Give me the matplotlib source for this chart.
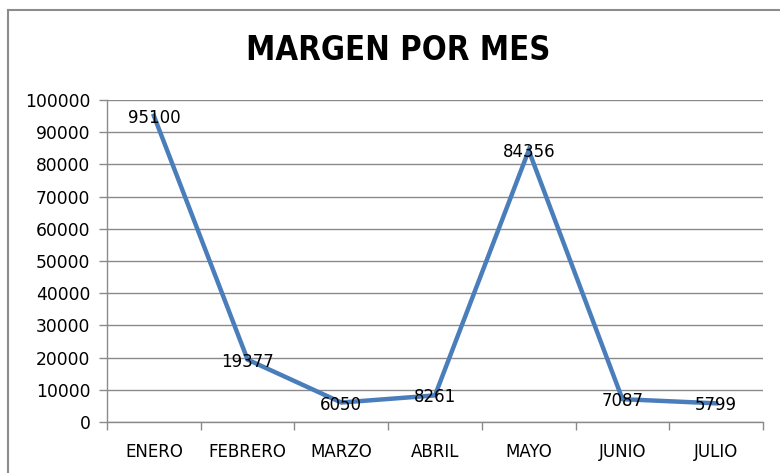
import numpy as np
import matplotlib.pyplot as plt
from matplotlib.lines import Line2D

meses = ['ENERO', 'FEBRERO', 'MARZO', 'ABRIL', 'MAYO', 'JUNIO', 'JULIO']
margen = [95100, 19377, 6050, 8261, 84356, 7087, 5799]
y_ticks = [0, 10000, 20000, 30000, 40000, 50000, 60000, 70000, 80000, 90000, 100000]

W, H = 780, 473
fig = plt.figure(figsize=(W / 100, H / 100), dpi=100)
ax = fig.add_axes([107 / W, 1 - 422 / H, (763 - 107) / W, (422 - 100) / H])

grid_color = '#8a8a8a'
line_color = '#4a7ebb'
font = 'DejaVu Sans'

x = np.arange(len(meses))
ax.plot(x, margen, color=line_color, lw=3.2, solid_joinstyle='miter', zorder=3)

for xi, v in zip(x, margen):
    ax.annotate(str(v), (xi, v), xytext=(0, -1.5), textcoords='offset points',
                ha='center', va='center', fontsize=12, family=font,
                color='black', zorder=4)

ax.set_xlim(-0.5, len(meses) - 0.5)
ax.set_ylim(0, 100000)
ax.set_yticks(y_ticks)
ax.set_yticklabels([str(t) for t in y_ticks], fontsize=12.3, family=font)
ax.yaxis.grid(True, color=grid_color, lw=1.0)
ax.set_axisbelow(True)

# category labels centred, tick marks between categories
ax.set_xticks(x)
ax.set_xticklabels(meses, fontsize=12, family=font)
ax.set_xticks(np.arange(len(meses) + 1) - 0.5, minor=True)
ax.tick_params(axis='x', which='major', length=0, pad=15)
ax.tick_params(axis='x', which='minor', length=6, width=1, color=grid_color, direction='out')
ax.tick_params(axis='y', length=6, width=1, color=grid_color, pad=6)

for side in ['top', 'right']:
    ax.spines[side].set_visible(False)
for side in ['left', 'bottom']:
    ax.spines[side].set_color(grid_color)
    ax.spines[side].set_linewidth(1.0)

fig.text(398 / W, 1 - 50 / H, 'MARGEN POR MES', ha='center', va='center',
         fontsize=23.5, fontweight='bold', family=font, fontstretch='condensed')

# outer chart frame
frame_kw = dict(color='#8c8c8c', lw=1.5, transform=fig.transFigure)
fig.add_artist(Line2D([8 / W, 1], [1 - 10 / H, 1 - 10 / H], **frame_kw))
fig.add_artist(Line2D([8 / W, 8 / W], [0, 1 - 10 / H], **frame_kw))

fig.savefig('out.png', dpi=100)
